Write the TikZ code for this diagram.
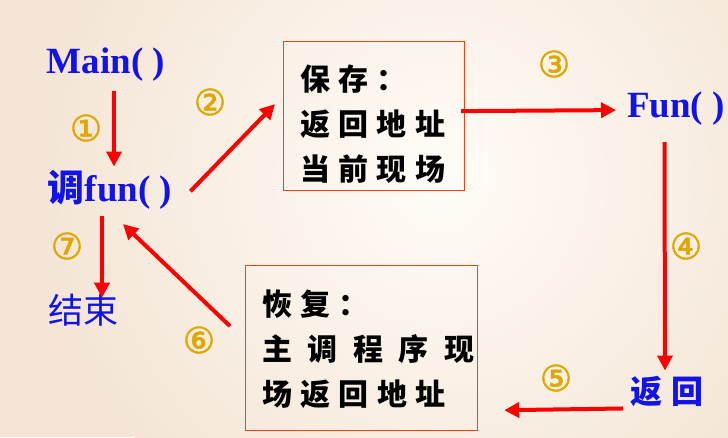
\documentclass[tikz,border=0pt]{standalone}
\usepackage{fontspec}
\setmainfont{Liberation Serif}
\newfontfamily\cjk{Noto Sans CJK SC}
\newfontfamily\cjkwide[LetterSpace=28]{Noto Sans CJK SC}
\newfontfamily\numfont[FakeBold=1.5]{DejaVu Sans}
\usetikzlibrary{arrows.meta}
\definecolor{callblue}{RGB}{18,18,235}
\definecolor{boxred}{RGB}{255,60,20}
\definecolor{stepgold}{RGB}{222,168,0}
\definecolor{roseout}{RGB}{244,229,214}
\definecolor{rosein}{RGB}{255,252,247}
\begin{document}
\begin{tikzpicture}[x=1pt,y=-1pt,
  call/.style={inner sep=0pt,text=callblue,font=\fontsize{37}{40}\selectfont\bfseries},
  memo/.style={draw=boxred,line width=1.2pt,anchor=north west,inner sep=0pt},
  memotext/.style={anchor=north west,inner sep=0pt,align=left,font=\cjkwide\bfseries\fontsize{30}{45}\selectfont},
  num/.style={text=stepgold,inner sep=0pt,font=\numfont\fontsize{36}{36}\selectfont},
  flow/.style={draw=red,line width=4pt,-{Triangle[length=15pt,width=15pt]}}]
\useasboundingbox (0,0) rectangle (728,437);
\fill[roseout] (0,0) rectangle (728,437);
\shade[inner color=rosein,outer color=roseout] (440,180) circle (400);
% caller side
\node[call,anchor=base] (main) at (106,73) {Main( )};
\node[call,anchor=base] (callfun) at (110,201) {{\cjk 调}fun( )};
\node[text=callblue,inner sep=0pt,font=\cjk\fontsize{35}{35}\selectfont] (done) at (83,310) {结束};
% callee side
\node[call,anchor=base] (fun) at (676,117) {Fun( )};
\node[text=callblue,inner sep=0pt,font=\cjkwide\bfseries\fontsize{32}{32}\selectfont] (ret) at (667,392) {返回};
% save / restore boxes
\node[memo,minimum width=181pt,minimum height=149pt] (save) at (283,41) {};
\node[memotext] (savetext) at (300,65) {保存：\\返回地址\\当前现场};
\node[memo,minimum width=232pt,minimum height=165pt] (restore) at (245,265) {};
\node[memotext] (restoretext) at (262,290) {恢复：\\{\addfontfeature{LetterSpace=52}主调程序现}\\场返回地址};
% step numbers
\node[num] (n1) at (86,128) {①}; \node[num] (n2) at (210,102) {②}; \node[num] (n3) at (554,64) {③};
\node[num] (n4) at (686,246) {④}; \node[num] (n5) at (556,378) {⑤}; \node[num] (n6) at (199,340) {⑥};
\node[num] (n7) at (67,246) {⑦};
% flow
\draw[flow] ([shift={(8,10)}]main.south) -- ([shift={(4,-3)}]callfun.north);
\draw[flow] ([shift={(18,2)}]callfun.east) -- ([shift={(-8,-12)}]save.west);
\draw[flow] ([shift={(-4,-5)}]save.east) -- ([shift={(-11,2)}]fun.west);
\draw[flow] ([shift={(-11.5,17)}]fun.south) -- ([shift={(-2,-6)}]ret.north);
\draw[flow] ([shift={(-44,1)}]ret.south) -- ([shift={(26,-21)}]restore.south east);
\draw[flow] ([shift={(-15,-22)}]restore.west) -- ([shift={(13,15)}]callfun.south);
\draw[flow] ([shift={(-8,7)}]callfun.south) -- ([shift={(19,4)}]done.north);
\end{tikzpicture}
\end{document}
